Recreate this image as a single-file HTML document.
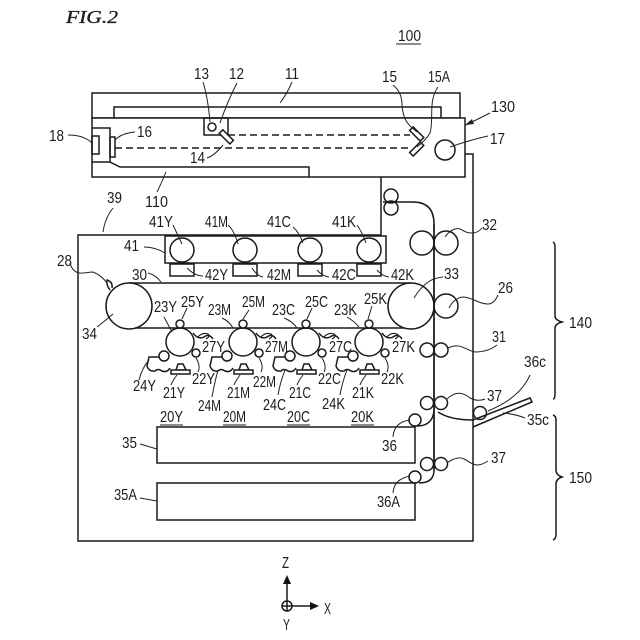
<!DOCTYPE html>
<html><head><meta charset="utf-8"><style>
html,body{margin:0;padding:0;background:#fff}
svg{display:block}
.s{fill:none;stroke:#1a1a1a;stroke-width:1.5}
.b{fill:#fff;stroke:#1a1a1a;stroke-width:1.5}
.l{fill:none;stroke:#222;stroke-width:1}
text{font-family:"Liberation Sans",sans-serif;font-size:15.5px;fill:#1c1c1c}
</style></head><body>
<svg width="640" height="640" viewBox="0 0 640 640" xmlns="http://www.w3.org/2000/svg">
<defs>
<g id="pc">
<circle class="s" cx="0" cy="0" r="14"/>
<circle class="b" cx="0" cy="-18" r="4"/>
<circle class="b" cx="16" cy="11" r="4"/>
<path class="s" d="M-21 15L-31 15L-33 24Q-31 30-25 29Q-22 26-18 29Q-13 31-10 26"/>
<circle class="b" cx="-16" cy="14" r="5"/>
<path class="s" d="M-4 28L-2 22L3 22L6 28Z"/>
<rect class="b" x="-9" y="28" width="19" height="4"/>
<path class="s" d="M13 -9Q18 -2 24 -5Q29 -9 33 -3"/>
<path class="s" d="M18 -5Q22 -10 28 -8Q31 -6 26 -3" style="stroke-width:1.100"/>
</g>
</defs>

<!-- Scanner -->
<rect class="s" x="92" y="93" width="368" height="25"/>
<path class="s" d="M114 118V107H441V118"/>
<rect class="b" x="92" y="118" width="373" height="59"/>
<path class="s" d="M92 128H110V162L120 167H309V177"/>
<path class="s" d="M92 162H110"/>
<rect class="s" x="92" y="136" width="7" height="18"/>
<rect class="s" x="110" y="137" width="5" height="20"/>
<rect class="s" x="204" y="118" width="24" height="17"/>
<circle class="s" cx="212" cy="127" r="4"/>
<path class="s" stroke-dasharray="7 4" d="M228 135H410M115 148H410"/>
<rect class="b" x="219" y="134" width="15" height="5" transform="rotate(45 226 136.500)"/>
<rect class="b" x="409" y="131" width="15" height="5" transform="rotate(45 416 134)"/>
<rect class="b" x="409" y="147" width="15" height="5" transform="rotate(-45 416 149)"/>
<circle class="s" cx="445" cy="150" r="10"/>

<!-- Body -->
<path class="s" d="M381 177V235H78V541H473V154H465"/>

<!-- Paper path -->
<circle class="s" cx="391" cy="196" r="7"/>
<circle class="s" cx="391" cy="208" r="7"/>
<path class="s" d="M383 202H413Q434 202 434 224V470Q434 483 419 483"/>
<path class="s" d="M434 410Q433 426 417 426"/>
<path class="s" d="M438 412Q450 420 473 420"/>

<!-- Exposure unit -->
<rect class="s" x="165" y="236" width="221" height="27"/>
<circle class="s" cx="182" cy="250" r="12"/>
<circle class="s" cx="245" cy="250" r="12"/>
<circle class="s" cx="310" cy="250" r="12"/>
<circle class="s" cx="369" cy="250" r="12"/>
<rect class="s" x="170" y="264" width="24" height="12"/>
<rect class="s" x="233" y="264" width="24" height="12"/>
<rect class="s" x="298" y="264" width="24" height="12"/>
<rect class="s" x="357" y="264" width="24" height="12"/>

<!-- Belt -->
<path class="s" d="M129 283H411M129 328H411"/>
<circle class="b" cx="129" cy="306" r="23"/>
<circle class="b" cx="411" cy="306" r="23"/>
<path class="s" d="M110 290Q106 285 107 280Q113 282 112 288"/>
<use href="#pc" x="180" y="342"/>
<use href="#pc" x="243" y="342"/>
<use href="#pc" x="306" y="342"/>
<use href="#pc" x="369" y="342"/>

<!-- Rollers -->
<circle class="s" cx="422" cy="243" r="12"/>
<circle class="s" cx="446" cy="243" r="12"/>
<circle class="s" cx="446" cy="306" r="12"/>
<circle class="s" cx="427" cy="350" r="7"/>
<circle class="s" cx="441" cy="350" r="7"/>
<circle class="b" cx="427" cy="403" r="6.500"/>
<circle class="b" cx="441" cy="403" r="6.500"/>
<circle class="b" cx="427" cy="464" r="6.500"/>
<circle class="b" cx="441" cy="464" r="6.500"/>
<circle class="b" cx="415" cy="420" r="6"/>
<circle class="b" cx="415" cy="477" r="6"/>
<circle class="s" cx="480" cy="413" r="6.500"/>
<path class="s" d="M434 224V470"/>

<!-- Trays -->
<rect class="s" x="157" y="427" width="258" height="36"/>
<rect class="s" x="157" y="483" width="258" height="37"/>
<path class="s" d="M473 420L530 398L532 402L473 427"/>

<!-- Braces -->
<path class="s" d="M553 242Q555 243 555 247V316Q555 320 562 322Q555 324 555 328V394Q555 399 553 399"/>
<path class="s" d="M553 415Q556 416 556 420V470Q556 475 562 477Q556 479 556 484V534Q556 539 553 540"/>

<!-- Axes -->
<circle class="s" cx="287" cy="606" r="5"/>
<path class="s" d="M282 606H292M287 601V611M287 601V578M292 606H315"/>
<path d="M287 575L283 584H291Z" fill="#111"/>
<path d="M319 606L310 602V610Z" fill="#111"/>

<!-- Leaders -->
<path class="l" d="M203 82Q208 98 210 122M237 83Q228 100 220 123"/>
<path class="l" d="M292 82Q287 94 280 103"/>
<path class="l" d="M393 85Q402 92 402 105C403 120 408 125 417 132M438 87C428 100 434 120 430 133Q426 140 417 147"/>
<path class="l" d="M490 113L466 125M488 136Q470 140 450 147"/>
<path d="M465 125L472 119L474 124Z" fill="#222"/>
<path class="l" d="M68 135Q84 135 92 143M135 132Q122 133 115 140M207 158Q214 156 223 145"/>
<path class="l" d="M157 192Q162 182 166 172"/>
<path class="l" d="M113 208Q105 218 103 232"/>
<path class="l" d="M173 225L182 244M228 225Q234 230 238 244M293 227Q299 232 303 243M357 225Q362 232 366 243"/>
<path class="l" d="M144 247Q155 247 165 253"/>
<path class="l" d="M70 263C74 278 86 272 93 272Q101 275 107 283"/>
<path class="l" d="M148 273Q156 275 161 282"/>
<path class="l" d="M203 276Q195 276 187 268M263 277Q257 276 252 268M329 277Q322 276 317 270M389 277Q382 276 377 270"/>
<path class="l" d="M97 327Q106 320 113 314"/>
<path class="l" d="M164 317L172 332M222 318Q229 321 233 328M284 318Q292 321 297 328M347 317Q354 321 359 327"/>
<path class="l" d="M187 308L182 319M249 310L243 319M312 308L307 319M372 306L368 319"/>
<path class="l" d="M196 358Q201 366 198 372M259 358Q264 366 261 372M322 358Q327 366 324 372M385 358Q390 366 387 372"/>
<path class="l" d="M177 375Q173 380 171 385M240 375Q236 380 234 385M303 375Q299 380 297 385M366 375Q362 380 360 385"/>
<path class="l" d="M149 360Q142 368 139 380M218 370Q214 385 212 397M285 370Q280 383 278 395M347 370Q342 383 340 395"/>
<path class="l" d="M482 228Q478 233 472 233C462 233 462 227 455 229Q449 231 445 237"/>
<path class="l" d="M443 277Q434 278 428 282Q420 288 414 298"/>
<path class="l" d="M498 295Q494 304 488 304C478 304 472 297 463 297Q454 298 449 308"/>
<path class="l" d="M497 345Q488 352 475 352C465 350 460 342 448 348"/>
<path class="l" d="M485 399Q478 402 470 398Q458 388 447 399"/>
<path class="l" d="M530 375Q520 398 488 411M525 418Q515 414 503 413"/>
<path class="l" d="M488 461Q482 465 477 465C468 464 466 457 458 458Q452 459 447 463"/>
<path class="l" d="M393 437Q394 422 410 420M393 493Q394 479 410 476"/>
<path class="l" d="M140 444L157 449M140 498L157 501"/>

<!-- Labels -->
<text x="66" y="23" style="font-family:'Liberation Serif',serif;font-style:italic;font-size:18px;stroke:#1c1c1c;stroke-width:.35" textLength="52" lengthAdjust="spacingAndGlyphs">FIG.2</text>
<text x="398" y="41" textLength="23" lengthAdjust="spacingAndGlyphs">100</text>
<path class="s" d="M396 44H421M160 425H183M223 425H246M287 425H310M351 425H374" style="stroke-width:1.100"/>
<text x="194" y="79" textLength="15" lengthAdjust="spacingAndGlyphs">13</text>
<text x="229" y="79" textLength="15" lengthAdjust="spacingAndGlyphs">12</text>
<text x="285" y="79" textLength="14" lengthAdjust="spacingAndGlyphs">11</text>
<text x="382" y="82" textLength="15" lengthAdjust="spacingAndGlyphs">15</text>
<text x="428" y="82" textLength="22" lengthAdjust="spacingAndGlyphs">15A</text>
<text x="491" y="112" textLength="24" lengthAdjust="spacingAndGlyphs">130</text>
<text x="490" y="144" textLength="15" lengthAdjust="spacingAndGlyphs">17</text>
<text x="49" y="141" textLength="15" lengthAdjust="spacingAndGlyphs">18</text>
<text x="137" y="137" textLength="15" lengthAdjust="spacingAndGlyphs">16</text>
<text x="190" y="163" textLength="15" lengthAdjust="spacingAndGlyphs">14</text>
<text x="145" y="207" textLength="23" lengthAdjust="spacingAndGlyphs">110</text>
<text x="107" y="203" textLength="15" lengthAdjust="spacingAndGlyphs">39</text>
<text x="149" y="227" textLength="24" lengthAdjust="spacingAndGlyphs">41Y</text>
<text x="205" y="227" textLength="23" lengthAdjust="spacingAndGlyphs">41M</text>
<text x="267" y="227" textLength="24" lengthAdjust="spacingAndGlyphs">41C</text>
<text x="332" y="227" textLength="24" lengthAdjust="spacingAndGlyphs">41K</text>
<text x="124" y="251" textLength="15" lengthAdjust="spacingAndGlyphs">41</text>
<text x="57" y="266" textLength="15" lengthAdjust="spacingAndGlyphs">28</text>
<text x="132" y="280" textLength="15" lengthAdjust="spacingAndGlyphs">30</text>
<text x="205" y="280" textLength="23" lengthAdjust="spacingAndGlyphs">42Y</text>
<text x="267" y="280" textLength="24" lengthAdjust="spacingAndGlyphs">42M</text>
<text x="332" y="280" textLength="24" lengthAdjust="spacingAndGlyphs">42C</text>
<text x="391" y="280" textLength="23" lengthAdjust="spacingAndGlyphs">42K</text>
<text x="82" y="339" textLength="15" lengthAdjust="spacingAndGlyphs">34</text>
<text x="154" y="312" textLength="23" lengthAdjust="spacingAndGlyphs">23Y</text>
<text x="181" y="307" textLength="23" lengthAdjust="spacingAndGlyphs">25Y</text>
<text x="208" y="315" textLength="23" lengthAdjust="spacingAndGlyphs">23M</text>
<text x="242" y="307" textLength="23" lengthAdjust="spacingAndGlyphs">25M</text>
<text x="272" y="315" textLength="23" lengthAdjust="spacingAndGlyphs">23C</text>
<text x="305" y="307" textLength="23" lengthAdjust="spacingAndGlyphs">25C</text>
<text x="334" y="315" textLength="23" lengthAdjust="spacingAndGlyphs">23K</text>
<text x="364" y="304" textLength="23" lengthAdjust="spacingAndGlyphs">25K</text>
<text x="202" y="352" textLength="23" lengthAdjust="spacingAndGlyphs">27Y</text>
<text x="265" y="352" textLength="23" lengthAdjust="spacingAndGlyphs">27M</text>
<text x="329" y="352" textLength="23" lengthAdjust="spacingAndGlyphs">27C</text>
<text x="392" y="352" textLength="23" lengthAdjust="spacingAndGlyphs">27K</text>
<text x="192" y="384" textLength="23" lengthAdjust="spacingAndGlyphs">22Y</text>
<text x="253" y="387" textLength="23" lengthAdjust="spacingAndGlyphs">22M</text>
<text x="318" y="384" textLength="23" lengthAdjust="spacingAndGlyphs">22C</text>
<text x="381" y="384" textLength="23" lengthAdjust="spacingAndGlyphs">22K</text>
<text x="163" y="398" textLength="22" lengthAdjust="spacingAndGlyphs">21Y</text>
<text x="227" y="398" textLength="23" lengthAdjust="spacingAndGlyphs">21M</text>
<text x="289" y="398" textLength="22" lengthAdjust="spacingAndGlyphs">21C</text>
<text x="352" y="398" textLength="22" lengthAdjust="spacingAndGlyphs">21K</text>
<text x="133" y="391" textLength="23" lengthAdjust="spacingAndGlyphs">24Y</text>
<text x="198" y="411" textLength="23" lengthAdjust="spacingAndGlyphs">24M</text>
<text x="263" y="410" textLength="23" lengthAdjust="spacingAndGlyphs">24C</text>
<text x="322" y="409" textLength="23" lengthAdjust="spacingAndGlyphs">24K</text>
<text x="160" y="422" textLength="23" lengthAdjust="spacingAndGlyphs">20Y</text>
<text x="223" y="422" textLength="23" lengthAdjust="spacingAndGlyphs">20M</text>
<text x="287" y="422" textLength="23" lengthAdjust="spacingAndGlyphs">20C</text>
<text x="351" y="422" textLength="23" lengthAdjust="spacingAndGlyphs">20K</text>
<text x="482" y="230" textLength="15" lengthAdjust="spacingAndGlyphs">32</text>
<text x="444" y="279" textLength="15" lengthAdjust="spacingAndGlyphs">33</text>
<text x="498" y="293" textLength="15" lengthAdjust="spacingAndGlyphs">26</text>
<text x="492" y="342" textLength="14" lengthAdjust="spacingAndGlyphs">31</text>
<text x="569" y="328" textLength="23" lengthAdjust="spacingAndGlyphs">140</text>
<text x="569" y="483" textLength="23" lengthAdjust="spacingAndGlyphs">150</text>
<text x="524" y="367" textLength="22" lengthAdjust="spacingAndGlyphs">36c</text>
<text x="487" y="401" textLength="15" lengthAdjust="spacingAndGlyphs">37</text>
<text x="527" y="425" textLength="22" lengthAdjust="spacingAndGlyphs">35c</text>
<text x="491" y="463" textLength="15" lengthAdjust="spacingAndGlyphs">37</text>
<text x="382" y="451" textLength="15" lengthAdjust="spacingAndGlyphs">36</text>
<text x="377" y="507" textLength="23" lengthAdjust="spacingAndGlyphs">36A</text>
<text x="122" y="448" textLength="15" lengthAdjust="spacingAndGlyphs">35</text>
<text x="114" y="500" textLength="23" lengthAdjust="spacingAndGlyphs">35A</text>
<text x="282" y="568" textLength="7" lengthAdjust="spacingAndGlyphs">Z</text>
<text x="324" y="614" textLength="7" lengthAdjust="spacingAndGlyphs">X</text>
<text x="283" y="630" textLength="7" lengthAdjust="spacingAndGlyphs">Y</text>
</svg>
</body></html>
